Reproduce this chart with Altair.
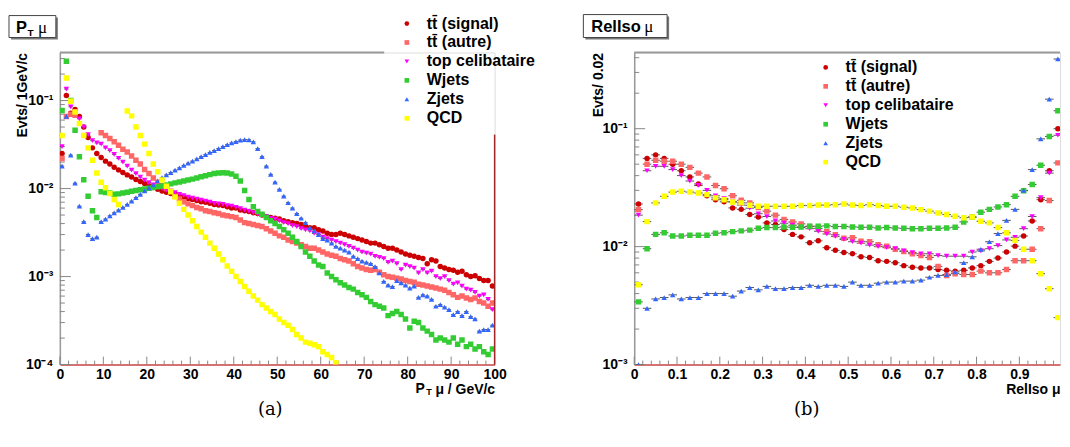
import altair as alt
import pandas as pd

FONT = "Liberation Sans"
SERIES = ["tt\u0304 (signal)", "tt\u0304 (autre)", "top celibataire", "Wjets", "Zjets", "QCD"]
COLORS = ["#cc0000", "#ff6666", "#ff00ff", "#33cc33", "#3366ff", "#ffff00"]
SHAPES = ["circle", "square", "triangle-down", "square", "triangle-up", "square"]

# ---------------- panel (a): muon pT, 1 GeV bins (centres 0.5 ... 99.5)
PT_BINS = [i + 0.5 for i in range(100)]
pt_signal = [0.025, 0.114, 0.072, 0.079, 0.066, 0.050, 0.038, 0.029, 0.025, 0.0225,
             0.0205, 0.019, 0.0175, 0.0163, 0.0152, 0.0143, 0.0135, 0.0127, 0.012, 0.0114,
             0.0108, 0.0103, 0.0098, 0.0094, 0.0091, 0.0088, 0.0085, 0.0082, 0.0079, 0.0077,
             0.0075, 0.0073, 0.0071, 0.0070, 0.0068, 0.0066, 0.0065, 0.0064, 0.0062, 0.0060,
             0.0060, 0.0057, 0.0056, 0.0055, 0.0053, 0.0052, 0.0050, 0.0048, 0.0047, 0.0046,
             0.0045, 0.0043, 0.0042, 0.0041, 0.0040, 0.0039, 0.0037, 0.0036, 0.0036, 0.0034,
             0.0033, 0.0031, 0.0030, 0.0030, 0.0031, 0.0030, 0.0029, 0.0028, 0.0027, 0.0026,
             0.0025, 0.0024, 0.0024, 0.0023, 0.0022, 0.0021, 0.0021, 0.0020, 0.0019, 0.0018,
             0.00175, 0.0017, 0.00165, 0.0016, 0.0014, 0.00155, 0.0015, 0.0013, 0.00125, 0.0012,
             0.00118, 0.00112, 0.00115, 0.00105, 0.0010, 0.00102, 0.00095, 0.0009, 0.0009, 0.00078]
pt_autre = [0.022, 0.066, 0.070, 0.068, None, None, None, None, None, 0.043,
            0.040, 0.037, 0.034, 0.031, 0.028, 0.026, 0.0235, 0.021, 0.019, 0.0165,
            0.0148, 0.0132, 0.0118, 0.0108, 0.0100, 0.0093, 0.0082, 0.0076, 0.0071, 0.0067,
            0.0064, 0.0061, 0.0059, 0.0056, 0.0055, 0.0053, 0.0052, 0.0050, 0.0049, 0.0048,
            0.0047, 0.0044, 0.0041, 0.0040, 0.0039, 0.0038, 0.0037, 0.0035, 0.0033, 0.0031,
            0.0029, 0.0028, 0.0026, 0.0025, 0.0024, 0.0023, 0.0022, 0.0021, 0.0021, 0.0020,
            0.0019, 0.0018, 0.00175, 0.0017, 0.0016, 0.00155, 0.0015, 0.0014, 0.0013, 0.00125,
            0.0012, 0.00118, 0.0012, 0.00112, 0.00105, 0.0010, 0.00098, 0.00096, 0.00094, 0.0009,
            0.00088, 0.00086, 0.00082, 0.0008, 0.00078, 0.00076, 0.00074, 0.00072, 0.0007, 0.00066,
            0.00062, 0.00058, 0.0006, 0.00057, 0.00055, 0.00057, 0.00052, 0.0005, 0.00046, 0.0005]
pt_top = [0.030, 0.135, 0.085, 0.075, 0.062, 0.050, 0.041, 0.035, 0.033, 0.032,
          0.029, 0.027, 0.0245, 0.022, 0.020, 0.018, 0.0162, 0.0148, 0.0135, 0.0125,
          0.0117, 0.011, 0.0105, 0.010, 0.0096, 0.0093, 0.009, 0.0086, 0.0083, 0.008,
          0.0078, 0.0076, 0.0074, 0.0072, 0.007, 0.0068, 0.0067, 0.0066, 0.0064, 0.0063,
          0.0061, 0.0059, 0.0057, 0.0055, 0.0053, 0.0051, 0.005, 0.0048, 0.0046, 0.0045,
          0.0043, 0.0041, 0.0040, 0.0038, 0.0037, 0.0035, 0.0034, 0.0033, 0.0031, 0.0030,
          0.0028, 0.0027, 0.0026, 0.0025, 0.0024, 0.0023, 0.0022, 0.0021, 0.0020, 0.0019,
          0.00185, 0.0018, 0.0017, 0.00165, 0.0016, 0.00145, 0.0015, 0.0014, 0.0012, 0.00135,
          0.0013, 0.00125, 0.0011, 0.0012, 0.0011, 0.00115, 0.0010, 0.00095, 0.0010, 0.0009,
          0.00082, 0.00085, 0.00078, 0.00072, 0.0007, 0.00066, 0.0006, 0.00062, 0.00055, 0.00042]
pt_wjets = [0.077, 0.28, 0.10, 0.046, 0.023, 0.0126, 0.0082, 0.0056, 0.0047, 0.0092,
            0.009, 0.0089, 0.0086, 0.0087, 0.0089, 0.0091, 0.0093, 0.0095, 0.0097, 0.0099,
            0.0101, 0.0103, 0.0105, 0.0107, 0.011, 0.0113, 0.0116, 0.0119, 0.0122, 0.0125,
            0.0128, 0.0132, 0.0136, 0.014, 0.0144, 0.0148, 0.015, 0.0151, 0.015, 0.0146,
            0.0138, 0.0122, 0.0095, 0.0075, 0.0062, 0.0055, 0.0051, 0.0047, 0.0043, 0.004,
            0.0037, 0.0034, 0.0031, 0.0028, 0.0025, 0.0022, 0.0019, 0.0017, 0.0015, 0.00135,
            0.0013, 0.0011, 0.001, 0.00092, 0.00085, 0.0008, 0.00075, 0.00072, 0.00066, 0.00062,
            0.00058, 0.00052, 0.00048, 0.00046, 0.00044, 0.00036, 0.00038, 0.0004, 0.00037, 0.00033,
            0.00026, 0.00031, 0.0003, 0.00026, 0.00024, 0.00022, 0.00019, 0.0002, 0.00019, 0.00018,
            0.0002, 0.00017, 0.00019, 0.00016, 0.00017, 0.00015, 0.00016, 0.00014, 0.00013, 0.00015]
pt_zjets = [0.018, 0.066, 0.024, 0.0115, 0.0063, 0.0042, 0.003, 0.0027, 0.0028, 0.0042,
            0.0045, 0.0049, 0.0053, 0.0057, 0.0061, 0.0066, 0.0072, 0.0079, 0.0086, 0.0094,
            0.0102, 0.011, 0.0122, 0.0133, 0.0143, 0.0152, 0.0162, 0.0172, 0.0183, 0.0194,
            0.0205, 0.0217, 0.023, 0.0243, 0.0257, 0.027, 0.0285, 0.03, 0.0315, 0.033,
            0.0342, 0.0355, 0.036, 0.0358, 0.034, 0.0285, 0.023, 0.018, 0.0145, 0.0118,
            0.0098, 0.0082, 0.0069, 0.006, 0.0052, 0.0046, 0.0041, 0.0036, 0.0033, 0.003,
            0.0027, 0.0026, 0.0024, 0.0022, 0.0021, 0.002, 0.0019, 0.0017, 0.0016, 0.0015,
            0.00145, 0.0014, 0.0013, 0.0011, 0.00088, 0.0008, 0.00077, 0.0009, 0.00085, 0.0008,
            0.00074, 0.00078, 0.00058, 0.00062, 0.0006, 0.00055, 0.00046, 0.00048, 0.00045, 0.00042,
            0.00037, 0.0004, 0.00036, 0.0004, 0.00035, 0.00033, 0.00024, 0.00025, 0.00025, 0.00028]
pt_qcd = [0.040, 0.18, 0.098, 0.074, 0.055, 0.040, 0.029, 0.021, 0.015, 0.0118,
          0.0102, 0.0088, 0.0075, 0.0066, None, 0.076, 0.067, 0.050, 0.040, 0.032,
          0.025, 0.019, 0.0155, 0.0125, 0.0106, 0.0092, 0.008, 0.0068, 0.0058, 0.005,
          0.0043, 0.0037, 0.0032, 0.0028, 0.0024, 0.0021, 0.0018, 0.00155, 0.00132, 0.00115,
          0.001, 0.00088, 0.00077, 0.00068, 0.0006, 0.00054, 0.00048, 0.00044, 0.0004, 0.00037,
          0.00033, 0.0003, 0.00028, 0.00025, 0.00022, 0.0002, 0.00018, 0.000175, 0.000168, 0.00016,
          0.00014, 0.00013, 0.00012, 0.000105]

# ---------------- panel (b): relative isolation, 0.02 bins (centres 0.01 ... 0.99)
ISO_BINS = [round(0.01 + 0.02 * i, 2) for i in range(50)]
iso_signal = [0.023, 0.056, 0.060, 0.056, 0.050, 0.044, 0.039, 0.034, 0.027, 0.025,
              0.024, 0.0213, 0.0207, 0.0187, 0.0178, 0.0159, 0.0154, 0.014, 0.0127, 0.0121,
              0.0108, 0.0112, 0.0098, 0.0093, 0.0089, 0.0087, 0.0082, 0.0081, 0.0076, 0.0075,
              0.0073, 0.0069, 0.0067, 0.0066, 0.0066, 0.0064, 0.0063, 0.0062, 0.0063, 0.0066,
              0.0069, 0.0075, 0.008, 0.009, 0.0101, 0.0123, 0.0165, 0.025, 0.044, 0.100]
iso_autre = [0.0206, 0.050, 0.054, 0.053, 0.053, 0.050, 0.047, 0.042, 0.039, 0.033,
             0.031, 0.027, 0.0247, 0.0235, 0.0215, 0.020, 0.0185, 0.017, 0.0162, 0.0156,
             0.0148, 0.0143, 0.0134, 0.0126, 0.0118, 0.0119, 0.0111, 0.011, 0.0104, 0.0101,
             0.0095, 0.0091, 0.0087, 0.0084, 0.0081, 0.0068, 0.0057, 0.0059, 0.0058, 0.0058,
             0.0062, 0.006, 0.006, 0.0064, 0.0076, 0.0076, 0.0095, 0.0142, 0.0246, 0.0513]
iso_top = [0.0185, 0.044, 0.048, 0.048, 0.045, 0.040, 0.036, 0.033, 0.030, 0.027,
           0.0255, 0.024, 0.0225, 0.0212, 0.019, 0.018, 0.0165, 0.0158, 0.0152, 0.0145,
           0.0142, 0.0135, 0.0128, 0.0122, 0.0115, 0.011, 0.0107, 0.0103, 0.010, 0.0098,
           0.0096, 0.0092, 0.0089, 0.0087, 0.0087, 0.0084, 0.0083, 0.0083, 0.0083, 0.009,
           0.0092, 0.0096, 0.0102, 0.0114, 0.012, 0.0142, 0.018, 0.026, 0.042, 0.088]
iso_wjets = [0.0034, 0.0096, 0.0127, 0.0131, 0.0123, 0.0123, 0.0125, 0.0125, 0.0125, 0.013,
             0.0131, 0.0134, 0.0136, 0.0138, 0.0143, 0.0145, 0.0145, 0.0147, 0.0146, 0.0147,
             0.0149, 0.0149, 0.015, 0.0148, 0.0148, 0.0147, 0.0146, 0.0146, 0.0144, 0.0145,
             0.0144, 0.0143, 0.0142, 0.0142, 0.0143, 0.0143, 0.0144, 0.0146, 0.0162, 0.0178,
             0.0196, 0.0207, 0.0217, 0.0227, 0.0267, 0.0298, 0.0336, 0.049, 0.086, 0.142]
iso_zjets = [0.001, 0.003, 0.0036, 0.0037, 0.0039, 0.0036, 0.0037, 0.0037, 0.004, 0.004,
             0.004, 0.0038, 0.0042, 0.0045, 0.0043, 0.0046, 0.0044, 0.0044, 0.0045, 0.0045,
             0.0047, 0.0046, 0.0047, 0.0047, 0.0046, 0.005, 0.0047, 0.0047, 0.0049, 0.005,
             0.005, 0.0051, 0.0051, 0.0052, 0.0055, 0.0057, 0.0058, 0.0061, 0.0073, 0.0082,
             0.0095, 0.011, 0.0129, 0.0167, 0.0207, 0.030, 0.045, 0.082, 0.178, 0.39]
iso_qcd = [0.00475, 0.0163, 0.0235, 0.0267, 0.029, 0.0295, 0.029, 0.0285, 0.0276, 0.0259,
           0.025, 0.0239, 0.0235, 0.0224, 0.022, 0.022, 0.022, 0.022, 0.022, 0.0223,
           0.0223, 0.0225, 0.0225, 0.0227, 0.023, 0.0225, 0.0223, 0.0227, 0.0223, 0.022,
           0.022, 0.0216, 0.0213, 0.0206, 0.020, 0.0193, 0.0187, 0.0181, 0.0176, 0.0178,
           0.0164, 0.0159, 0.0145, 0.0131, 0.0113, 0.0095, 0.0076, 0.0059, 0.0044, 0.0025]

# axis tick positions
PT_MAJOR = [0, 10, 20, 30, 40, 50, 60, 70, 80, 90, 100]
PT_MINOR = [v for v in range(2, 100, 2) if v % 10]
ISO_MAJOR = [0, 0.1, 0.2, 0.3, 0.4, 0.5, 0.6, 0.7, 0.8, 0.9]
ISO_MINOR = [round(0.02 * i, 2) for i in range(1, 50) if i % 5]
PT_YMAJOR = [1e-4, 1e-3, 1e-2, 1e-1]
PT_YMINOR = [k * d for d in (1e-4, 1e-3, 1e-2, 1e-1) for k in range(2, 10) if k * d < 0.35]
ISO_YMAJOR = [1e-3, 1e-2, 1e-1]
ISO_YMINOR = [k * d for d in (1e-3, 1e-2, 1e-1) for k in range(2, 10) if k * d < 0.44]

YLAB = ("datum.value > 0.05 ? '10\u207b\u00b9' : datum.value > 0.005 ? '10\u207b\u00b2' : "
        "datum.value > 0.0005 ? '10\u207b\u00b3' : '10\u207b\u2074'")


def make_df(bins, lists, half):
    rows = []
    for k, (name, vals) in enumerate(zip(SERIES, lists)):
        for x, v in zip(bins, vals):
            if v is None:
                continue
            rows.append({"x": x, "y": v, "series": name, "k": k, "xlo": x - half, "xhi": x + half})
    return pd.DataFrame(rows)


def txt(s, x, y, size, align="left", weight="bold", font=FONT, baseline="alphabetic"):
    return alt.Chart(pd.DataFrame({"t": [s]})).mark_text(
        font=font, fontWeight=weight, fontSize=size, color="black", baseline=baseline,
        align=align).encode(x=alt.value(x), y=alt.value(y), text="t:N")


def panel(df, xdom, ydom, W, H, xmaj, xmin, ymaj, ymin, xlab, xtitle, ytitle, ytitle_x,
          legx, legy, box, box_texts, caption, cap_x, top_end, right_rule, extra=()):
    xs = alt.Scale(domain=xdom, nice=False, zero=False)
    ys = alt.Scale(type="log", domain=ydom, nice=False)
    xaxis = alt.Axis(values=xmaj, title=xtitle, ticks=False, tickSize=0, grid=False,
                     domainColor="#d04848", domainWidth=1.5, labelFlush=False, labelOverlap=False,
                     labelExpr=xlab, labelFont=FONT, labelFontWeight="bold", labelFontSize=14,
                     labelColor="black", labelPadding=3, titleFont=FONT, titleFontWeight="bold",
                     titleFontSize=14, titleColor="black", titleAlign="right", titleAnchor="end",
                     titleX=W, titleY=29, titleBaseline="alphabetic")
    yaxis = alt.Axis(values=ymaj, title=ytitle, ticks=False, tickSize=0, grid=False,
                     domainColor="#999999", domainWidth=1.5, labelFlush=False, labelOverlap=False,
                     labelExpr=YLAB, labelFont=FONT, labelFontWeight="bold", labelFontSize=14,
                     labelColor="black", labelPadding=7, titleFont=FONT, titleFontWeight="bold",
                     titleFontSize=14, titleColor="black", titleAngle=270, titleAlign="right",
                     titleBaseline="bottom", titleX=ytitle_x, titleY=0)
    X = lambda f: alt.X(f, scale=xs, axis=xaxis)
    Y = lambda f: alt.Y(f, scale=ys, axis=yaxis)
    leg = alt.Legend(orient="none", legendX=legx, legendY=legy, title=None, labelFont=FONT,
                     labelFontWeight="bold", labelFontSize=16, labelColor="black", symbolSize=22,
                     symbolStrokeWidth=0, labelOffset=12, rowPadding=3, padding=0)

    base = alt.Chart(df)
    errs = base.mark_rule(color="#555555", strokeWidth=1, clip=True).encode(
        x=X("xlo:Q"), x2="xhi:Q", y=Y("y:Q"))
    pts = base.mark_point(filled=True, opacity=1, size=30, clip=True).encode(
        x=X("x:Q"), y=Y("y:Q"),
        color=alt.Color("series:N", scale=alt.Scale(domain=SERIES, range=COLORS), legend=leg),
        shape=alt.Shape("series:N", scale=alt.Scale(domain=SERIES, range=SHAPES), legend=leg),
        order="k:Q")

    tx_major = alt.Chart(pd.DataFrame({"v": xmaj})).mark_rule(color="#888888").encode(
        x=X("v:Q"), y=alt.value(H), y2=alt.value(H - 8))
    tx_minor = alt.Chart(pd.DataFrame({"v": xmin})).mark_rule(color="#888888").encode(
        x=X("v:Q"), y=alt.value(H), y2=alt.value(H - 4))
    ty_major = alt.Chart(pd.DataFrame({"v": ymaj})).mark_rule(color="#888888").encode(
        y=Y("v:Q"), x=alt.value(0), x2=alt.value(11))
    ty_minor = alt.Chart(pd.DataFrame({"v": ymin})).mark_rule(color="#888888").encode(
        y=Y("v:Q"), x=alt.value(0), x2=alt.value(5))
    top = alt.Chart(pd.DataFrame({"a": [xdom[0]], "b": [top_end]})).mark_rule(
        color="#999999", strokeWidth=2).encode(x=X("a:Q"), x2="b:Q", y=alt.value(0))
    layers = [top, tx_minor, tx_major, ty_minor, ty_major, errs, pts]
    if right_rule is not None:
        rr = alt.Chart(pd.DataFrame({"x": [xdom[1]], "a": [ydom[0]], "b": [right_rule]})).mark_rule(
            color="#a02828", strokeWidth=1.5).encode(x=X("x:Q"), y=Y("a:Q"), y2="b:Q")
        layers.append(rr)

    bx0, by0, bx1, by1 = box
    one = pd.DataFrame({"t": [""]})
    shadow = alt.Chart(one).mark_rect(fill="#777777").encode(
        x=alt.value(bx0 + 2), x2=alt.value(bx1 + 2), y=alt.value(by0 + 2), y2=alt.value(by1 + 2))
    frame = alt.Chart(one).mark_rect(fill="white", stroke="#444444", strokeWidth=1).encode(
        x=alt.value(bx0), x2=alt.value(bx1), y=alt.value(by0), y2=alt.value(by1))
    layers += [shadow, frame]
    for (s, x, y, size, weight, font) in box_texts:
        layers.append(txt(s, x, y, size, weight=weight, font=font))
    for (s, x, y, size, align) in extra:
        layers.append(txt(s, x, y, size, align=align))
    layers.append(txt(caption, cap_x, 359, 18, align="center", weight="normal",
                      font="DejaVu Serif", baseline="middle"))
    return alt.layer(*layers).properties(width=W, height=H)


W_L, H = 436, 313
W_R = 427

left = panel(make_df(PT_BINS, [pt_signal, pt_autre, pt_top, pt_wjets, pt_zjets, pt_qcd], 0.5),
             [0, 100], [1e-4, 0.352], W_L, H, PT_MAJOR, PT_MINOR, PT_YMAJOR,
             PT_YMINOR, "datum.label", "\u03bc / GeV/c", "Evts/ 1GeV/c", -30,
             340, -37, (-51, -37, -4, -15),
             [("P", -44, -20, 16.5, "bold", FONT), ("T", -32.5, -17, 10, "bold", FONT),
              ("\u03bc", -22, -20, 17, "normal", "Liberation Serif")],
             "(a)", 211, 74.6, 0.041,
             extra=[("P", W_L - 70, H + 29, 14, "right"), ("T", W_L - 63, H + 31, 9, "right")])
right = panel(make_df(ISO_BINS, [iso_signal, iso_autre, iso_top, iso_wjets, iso_zjets, iso_qcd], 0.01),
              [0, 0.995], [1e-3, 0.443], W_R, H, ISO_MAJOR, ISO_MINOR, ISO_YMAJOR, ISO_YMINOR,
              "datum.value == 0 ? '0' : format(datum.value, '.1f')",
              "RelIso \u03bc", "Evts/ 0.02", -29,
              184, 7, (-51, -38, 33, -15),
              [("RelIso", -43, -20.5, 16.5, "bold", FONT),
               ("\u03bc", 10, -20.5, 17, "normal", "Liberation Serif")],
              "(b)", 173, 0.995, None)

chart = alt.hconcat(left, right, spacing=140).resolve_scale(
    color="independent", shape="independent", x="independent", y="independent").resolve_legend(
    color="independent", shape="independent").properties(
    bounds="flush",
    padding={"left": 0, "top": 5, "right": 0, "bottom": 0}).configure_view(stroke=None).configure(
    background="white")

chart.save("out.html", embed_options={"renderer": "svg", "actions": False})
